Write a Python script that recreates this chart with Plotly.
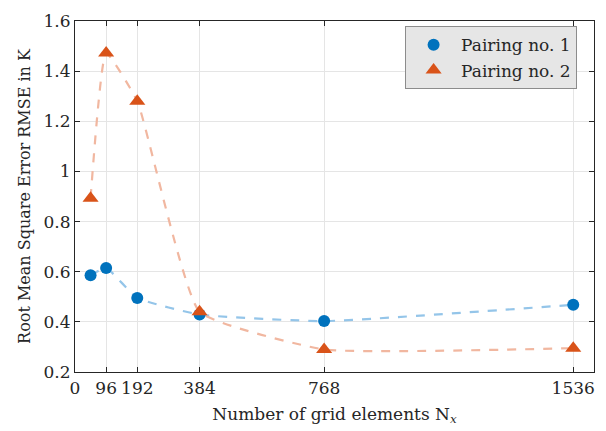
import plotly.graph_objects as go

x_vals = [48, 96, 192, 384, 768, 1536]
pairing1 = [0.586, 0.615, 0.495, 0.429, 0.403, 0.468]
pairing2 = [0.893, 1.472, 1.280, 0.440, 0.290, 0.295]
x_ticks = [0, 96, 192, 384, 768, 1536]
y_ticks = [0.2, 0.4, 0.6, 0.8, 1.0, 1.2, 1.4, 1.6]
y_tick_text = ["0.2", "0.4", "0.6", "0.8", "1", "1.2", "1.4", "1.6"]

c1 = "#0072BD"
c2 = "#D95319"
c1_light = "#94c5e9"
c2_light = "#f1b7a0"
font_family = "DejaVu Serif"

fig = go.Figure()
fig.add_trace(go.Scatter(x=x_vals, y=pairing1, mode="lines", showlegend=False,
                         line=dict(color=c1_light, width=2.2, dash="dash", shape="spline", smoothing=0.4)))
fig.add_trace(go.Scatter(x=x_vals, y=pairing2, mode="lines", showlegend=False,
                         line=dict(color=c2_light, width=2.2, dash="dash", shape="spline", smoothing=0.4)))
fig.add_trace(go.Scatter(x=x_vals, y=pairing1, mode="markers", name="Pairing no. 1",
                         marker=dict(color=c1, size=12, symbol="circle")))
fig.add_trace(go.Scatter(x=x_vals, y=pairing2, mode="markers", name="Pairing no. 2",
                         marker=dict(color=c2, size=14, symbol="triangle-up")))

axis_common = dict(showline=True, linecolor="#262626", linewidth=1.2, mirror="ticks",
                   ticks="inside", ticklen=5, tickcolor="#262626",
                   showgrid=True, gridcolor="#e5e5e5", gridwidth=1, zeroline=False,
                   tickfont=dict(family=font_family, size=17, color="#262626"))

fig.update_layout(
    width=606, height=431,
    margin=dict(l=75, r=11, t=17, b=58),
    paper_bgcolor="white", plot_bgcolor="white",
    font=dict(family=font_family, color="#262626"),
    xaxis=dict(range=[0, 1600], tickvals=x_ticks, ticktext=[str(v) for v in x_ticks],
               title=dict(text="Number of grid elements N<sub><i>x</i></sub>",
                          font=dict(family=font_family, size=17, color="#262626"), standoff=11),
               **axis_common),
    yaxis=dict(range=[0.2, 1.6], tickvals=y_ticks, ticktext=y_tick_text,
               title=dict(text="Root Mean Square Error RMSE in K",
                          font=dict(family=font_family, size=16, color="#262626"), standoff=8),
               **axis_common),
    legend=dict(x=0.636, y=0.985, xanchor="left", yanchor="top",
                bgcolor="#e6e6e6", bordercolor="#8c8c8c", borderwidth=1,
                font=dict(family=font_family, size=17, color="#262626"),
                itemwidth=45, tracegroupgap=0),
)

fig.write_html("out.html")
